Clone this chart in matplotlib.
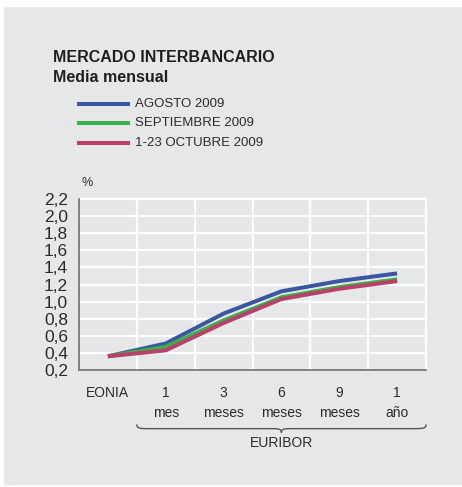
import numpy as np
import matplotlib.pyplot as plt
from matplotlib.lines import Line2D
from matplotlib.patches import Rectangle, PathPatch
from matplotlib.path import Path
import matplotlib.transforms as mtransforms

plt.rcParams['font.family'] = ['Liberation Sans', 'DejaVu Sans']

# data (%)
plazos = ["EONIA", "1", "3", "6", "9", "1"]
plazos2 = ["", "mes", "meses", "meses", "meses", "año"]
series = ["AGOSTO 2009", "SEPTIEMBRE 2009", "1-23 OCTUBRE 2009"]
agosto = [0.36, 0.51, 0.86, 1.12, 1.24, 1.33]
septiembre = [0.36, 0.47, 0.78, 1.05, 1.17, 1.26]
octubre = [0.36, 0.43, 0.75, 1.03, 1.15, 1.24]
yticks = [0.2, 0.4, 0.6, 0.8, 1.0, 1.2, 1.4, 1.6, 1.8, 2.0, 2.2]

colores = ["#3a57a0", "#3cb04a", "#b8416a"]
txt = "#2b2b2b"

fig = plt.figure(figsize=(4.62, 4.87), dpi=100)
fig.patch.set_facecolor("white")
fig.add_artist(Rectangle((4 / 462, 1 - 485 / 487), 458 / 462, 478 / 487,
                         transform=fig.transFigure, facecolor="#e6e7e8",
                         edgecolor="none", zorder=0))

ax = fig.add_axes([79 / 462, 1 - 370 / 487, 347 / 462, 171 / 487])
ax.set_facecolor("none")

x = np.arange(len(plazos))
for vals, c in zip([agosto, septiembre, octubre], colores):
    ax.plot(x, vals, color=c, lw=2.9, solid_capstyle="butt", zorder=3)

ax.set_xlim(-0.5, len(plazos) - 0.5)
ax.set_ylim(0.2, 2.2)
ax.set_yticks(yticks)
ax.set_yticklabels([f"{v:.1f}".replace(".", ",") for v in yticks])
ax.tick_params(axis="y", length=0, pad=8, labelsize=12.5, labelcolor=txt)
ax.set_xticks(x)
ax.set_xticklabels([])
ax.tick_params(axis="x", length=0)

# white grid
for v in yticks[1:]:
    ax.axhline(v, color="white", lw=1.6, zorder=1, clip_on=False)
for v in np.arange(0.5, len(plazos), 1.0):
    ax.axvline(v, color="white", lw=1.6, zorder=1, clip_on=False)

for s in ["top", "right"]:
    ax.spines[s].set_visible(False)
ax.spines["left"].set_color("#7a7a7a")
ax.spines["bottom"].set_color("#7a7a7a")
ax.spines["left"].set_linewidth(1.3)
ax.spines["bottom"].set_linewidth(1.3)

# x labels
tr = mtransforms.blended_transform_factory(ax.transData, ax.transAxes)
for i in range(len(plazos)):
    ax.text(x[i], -0.1345, plazos[i], transform=tr, ha="center", va="center",
            fontsize=10, color=txt)
    ax.text(x[i], -0.251, plazos2[i], transform=tr, ha="center", va="center",
            fontsize=10, color=txt)

# brace under EURIBOR
yE, yM, yT = -0.318, -0.343, -0.366
verts = [(0.5, yE), (0.5, yM), (0.55, yM), (0.75, yM),
         (2.8, yM),
         (2.95, yM), (3.0, yM), (3.0, yT),
         (3.0, yM), (3.05, yM), (3.2, yM),
         (5.25, yM),
         (5.45, yM), (5.5, yM), (5.5, yE)]
codes = [Path.MOVETO, Path.CURVE4, Path.CURVE4, Path.CURVE4,
         Path.LINETO,
         Path.CURVE4, Path.CURVE4, Path.CURVE4,
         Path.CURVE4, Path.CURVE4, Path.CURVE4,
         Path.LINETO,
         Path.CURVE4, Path.CURVE4, Path.CURVE4]
ax.add_patch(PathPatch(Path(verts, codes), transform=tr, facecolor="none",
                       edgecolor="#555555", lw=1.0, clip_on=False))
ax.text(3.0, -0.427, "EURIBOR", transform=tr, ha="center", va="center",
        fontsize=10, color=txt)

# titles
fig.text(53 / 462, 1 - 62 / 487, "MERCADO INTERBANCARIO", fontsize=11.5,
         fontweight="bold", color="#231f20", va="baseline")
fig.text(53 / 462, 1 - 82 / 487, "Media mensual", fontsize=11.5,
         fontweight="bold", color="#231f20", va="baseline")
fig.text(81 / 462, 1 - 183 / 487, "%", fontsize=9, color=txt, va="center")

# legend
for k, (nombre, c) in enumerate(zip(series, colores)):
    yy = 1 - (103.7 + 19.5 * k) / 487
    fig.add_artist(Line2D([79 / 462, 128 / 462], [yy, yy], color=c, lw=2.9,
                          transform=fig.transFigure))
    fig.text(135 / 462, yy, nombre, fontsize=9.5, color=txt, va="center")

fig.savefig("out.png", dpi=100)
